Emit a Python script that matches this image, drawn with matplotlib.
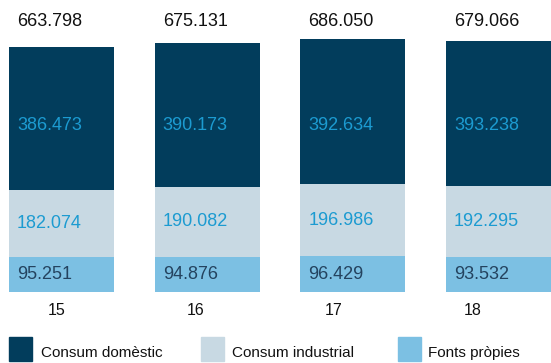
import matplotlib.pyplot as plt
import numpy as np
from matplotlib.patches import Rectangle

plt.rcParams['font.family'] = ['Liberation Sans', 'DejaVu Sans']

years = ['15', '16', '17', '18']
fonts = [95.251, 94.876, 96.429, 93.532]
industrial = [182.074, 190.082, 196.986, 192.295]
domestic = [386.473, 390.173, 392.634, 393.238]
totals = [663.798, 675.131, 686.050, 679.066]
series_names = ['Consum domèstic', 'Consum industrial', 'Fonts pròpies']

c_dom = '#023d5c'
c_ind = '#c8d9e3'
c_fon = '#7cc0e3'
c_lab = '#1c9bd1'
c_dark = '#24435f'


def fmt(v):
    return f'{v:.3f}'


fig = plt.figure(figsize=(5.51, 3.63), dpi=100)
ax = fig.add_axes([0, 71 / 363, 1, 292 / 363])

x = np.arange(len(years))
w = 0.72
fonts = np.array(fonts)
industrial = np.array(industrial)
domestic = np.array(domestic)

ax.bar(x, fonts, w, color=c_fon)
ax.bar(x, industrial, w, bottom=fonts, color=c_ind)
ax.bar(x, domestic, w, bottom=fonts + industrial, color=c_dom)

# domestic labels sit on one common line in the original
dom_y = (fonts + industrial).min() + domestic.min() * 0.45

lx = x - w / 2 + 0.055
for i in range(len(years)):
    ax.text(lx[i], fonts[i] * 0.5, fmt(fonts[i]), color=c_dark,
            fontsize=13, va='center', ha='left')
    ax.text(lx[i], fonts[i] + industrial[i] * 0.5, fmt(industrial[i]),
            color=c_lab, fontsize=13, va='center', ha='left')
    ax.text(lx[i], dom_y, fmt(domestic[i]), color=c_lab, fontsize=13,
            va='center', ha='left')
    ax.text(lx[i], 0.928, fmt(totals[i]), color='#111111', fontsize=13,
            va='center', ha='left', transform=ax.get_xaxis_transform())

ax.set_xlim(-0.422, 3.36)
ax.set_ylim(0, 791)
ax.set_xticks(x - 0.03 - 0.05 * x)
ax.set_xticklabels(years, fontsize=11.5, color='#111111')
ax.tick_params(axis='x', length=0, pad=8)
ax.set_yticks([])
for s in ax.spines.values():
    s.set_visible(False)

# legend drawn by hand in pixel positions
H = 363
leg = [(9, 41, c_dom), (201, 232, c_ind), (398, 428, c_fon)]
for (sx, tx, col), name in zip(leg, series_names):
    fig.patches.append(Rectangle((sx / 551, (H - 361) / H), 23 / 551, 24 / H,
                                 transform=fig.transFigure, color=col))
    fig.text(tx / 551, (H - 353) / H, name, fontsize=11, color='#111111',
             va='center', ha='left')

fig.savefig('out.png', dpi=100)
